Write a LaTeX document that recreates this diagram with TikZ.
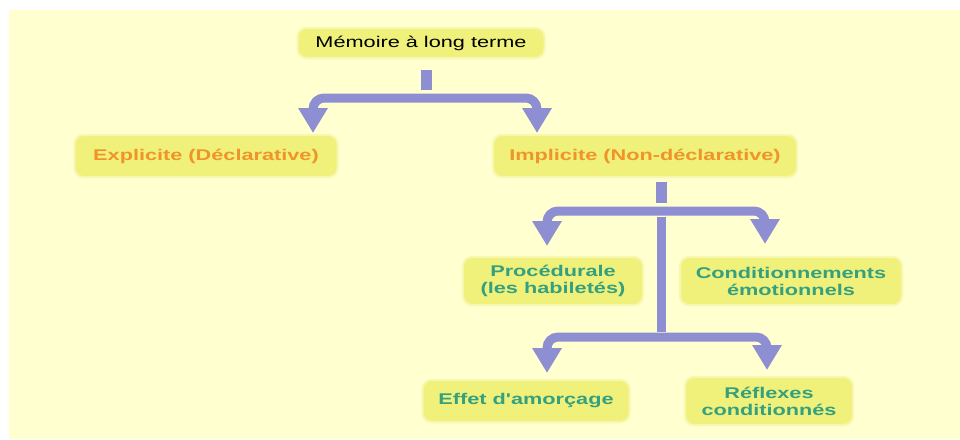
\documentclass[tikz,border=0pt]{standalone}
\usepackage{fontspec}
\newfontfamily\lab[FakeStretch=1.4]{Liberation Sans}
\usetikzlibrary{arrows.meta}
\definecolor{bgc}{RGB}{255,255,208}
\definecolor{boxc}{RGB}{240,241,122}
\definecolor{boxe}{RGB}{247,247,175}
\definecolor{arrc}{RGB}{142,142,210}
\definecolor{orc}{RGB}{240,148,40}
\definecolor{tlc}{RGB}{52,160,128}
\tikzset{
  box/.style={rounded corners=9pt, fill=boxc, draw=boxe, line width=2pt, inner sep=0pt, align=center,
    font=\lab\fontsize{15.5}{17}\selectfont},
  orangetxt/.style={text=orc, font=\lab\bfseries\fontsize{15.5}{17}\selectfont},
  tealtxt/.style={text=tlc, font=\lab\bfseries\fontsize{15.5}{17}\selectfont},
  stub/.style={draw=arrc, line width=11pt},
  branch/.style={draw=arrc, line width=9pt, rounded corners=11pt, -{Triangle[width=28pt,length=25pt]}, arrc},
  trunk/.style={draw=arrc, line width=9pt}
}
\begin{document}
\begin{tikzpicture}[x=1pt,y=-1pt]
\useasboundingbox (0,0) rectangle (960,439);
\fill[white] (0,0) rectangle (960,439);
\fill[bgc] (9,10) rectangle (960,439);

\node[box, minimum width=247pt, minimum height=30pt, text=black] (top) at (421,43) {Mémoire à long terme};
\node[box, orangetxt, minimum width=263pt, minimum height=42pt] (expl) at (206,156) {Explicite (Déclarative)};
\node[box, orangetxt, minimum width=304pt, minimum height=42pt] (impl) at (645,156) {Implicite (Non-déclarative)};
\node[box, tealtxt, minimum width=180pt, minimum height=48pt] (proc) at (553,281) {Procédurale\\(les habiletés)};
\node[box, tealtxt, minimum width=222pt, minimum height=48pt] (cond) at (791,281) {Conditionnements\\émotionnels};
\node[box, tealtxt, minimum width=207pt, minimum height=42pt] (effet) at (526,401) {Effet d'amorçage};
\node[box, tealtxt, minimum width=168pt, minimum height=48pt] (refl) at (769,401) {Réflexes\\conditionnés};

% level 1
\coordinate (s1a) at (426,70);
\coordinate (s1b) at (426,90);
\coordinate (b1) at (426,98);
\coordinate (t1l) at (313,133);
\coordinate (t1r) at (537,133);
\draw[stub] (s1a) -- (s1b);
\draw[branch] (b1) -| (t1l);
\draw[branch] (b1) -| (t1r);

% level 2
\coordinate (s2a) at (661,182);
\coordinate (s2b) at (661,203);
\coordinate (b2) at (661,211);
\coordinate (t2l) at (547,246);
\coordinate (t2r) at (765,244);
\draw[stub] (s2a) -- (s2b);
\draw[branch] (b2) -| (t2l);
\draw[branch] (b2) -| (t2r);

% level 3
\coordinate (v3a) at (661,217);
\coordinate (v3b) at (661,332);
\coordinate (b3) at (661,337);
\coordinate (t3l) at (547,373);
\coordinate (t3r) at (767,370);
\draw[trunk] (v3a) -- (v3b);
\draw[branch] (b3) -| (t3l);
\draw[branch] (b3) -| (t3r);
\end{tikzpicture}
\end{document}
